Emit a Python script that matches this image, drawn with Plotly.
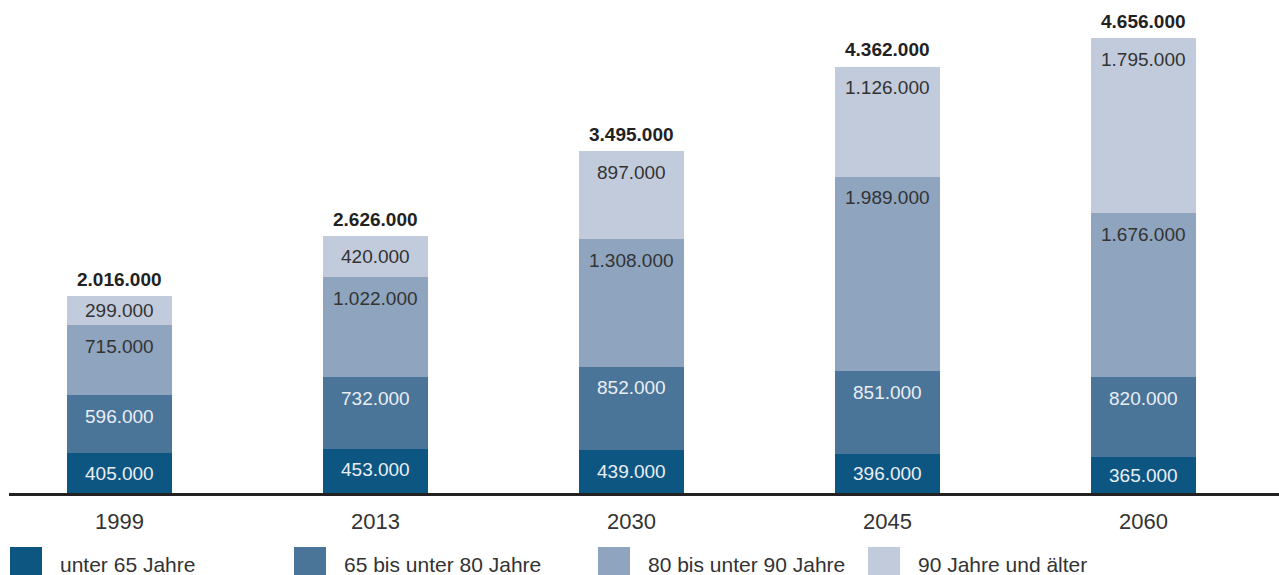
import plotly.graph_objects as go

# Pflegebedürftige nach Altersgruppen
years = ["1999", "2013", "2030", "2045", "2060"]
series_names = ["unter 65 Jahre", "65 bis unter 80 Jahre", "80 bis unter 90 Jahre", "90 Jahre und älter"]
unter_65 = [405000, 453000, 439000, 396000, 365000]
von_65_bis_80 = [596000, 732000, 852000, 851000, 820000]
von_80_bis_90 = [715000, 1022000, 1308000, 1989000, 1676000]
ab_90 = [299000, 420000, 897000, 1126000, 1795000]
totals = [2016000, 2626000, 3495000, 4362000, 4656000]

series_values = [unter_65, von_65_bis_80, von_80_bis_90, ab_90]
colors = ["#0e5682", "#4b7499", "#8ea4bf", "#c2cbdc"]
label_colors = ["#e9eef4", "#e9eef4", "#333333", "#333333"]

W, H = 1279, 575
M_L, M_R, M_T, M_B = 9, 0, 5, 82
plot_w = W - M_L - M_R
plot_h = H - M_T - M_B
y_max = 4994000
px_per_unit = plot_h / y_max
FONT = "Liberation Sans, Arial, sans-serif"


def de_fmt(v):
    return f"{v:,}".replace(",", ".")


def paper_x(px):
    return (px - M_L) / plot_w


def paper_y(py):
    return (H - M_B - py) / plot_h


fig = go.Figure()
for name, vals, col in zip(series_names, series_values, colors):
    fig.add_trace(go.Bar(
        x=years, y=vals, name=name, marker=dict(color=col, line=dict(width=0)),
        width=0.41, showlegend=False, hoverinfo="skip",
    ))

annotations = []
# value labels near the top of each segment
cum = [0] * len(years)
for vals, lc in zip(series_values, label_colors):
    for i, v in enumerate(vals):
        cum[i] += v
        shift = -min(21, v * px_per_unit / 2)
        annotations.append(dict(
            x=i, y=cum[i], xref="x", yref="y", text=de_fmt(v), showarrow=False,
            yanchor="middle", yshift=shift,
            font=dict(family=FONT, size=19, color=lc),
        ))

# totals above the bars
for i, t in enumerate(totals):
    annotations.append(dict(
        x=i, y=t, xref="x", yref="y", text=f"<b>{de_fmt(t)}</b>", showarrow=False,
        yanchor="middle", yshift=17,
        font=dict(family=FONT, size=19, color="#222222"),
    ))

# legend drawn below the axis
legend_x = [10, 294, 598, 868]
shapes = []
for lx, name, col in zip(legend_x, series_names, colors):
    shapes.append(dict(
        type="rect", xref="paper", yref="paper",
        x0=paper_x(lx), x1=paper_x(lx + 32),
        y0=paper_y(580), y1=paper_y(547),
        fillcolor=col, line=dict(width=0),
    ))
    annotations.append(dict(
        xref="paper", yref="paper",
        x=paper_x(lx + 48), y=paper_y(564),
        xanchor="left", yanchor="middle", text=name, showarrow=False,
        font=dict(family=FONT, size=21, color="#333333"),
    ))

fig.update_layout(
    width=W, height=H,
    margin=dict(l=M_L, r=M_R, t=M_T, b=M_B, pad=0),
    barmode="stack",
    plot_bgcolor="white", paper_bgcolor="white",
    xaxis=dict(
        type="category", range=[-0.432, 4.529],
        showline=True, linecolor="#222222", linewidth=2.5,
        showgrid=False, zeroline=False, ticks="",
        tickfont=dict(family=FONT, size=22, color="#333333"),
        ticklabelstandoff=7,
    ),
    yaxis=dict(range=[0, y_max], visible=False, showgrid=False, zeroline=False),
    annotations=annotations,
    shapes=shapes,
)

fig.write_html("out.html")
